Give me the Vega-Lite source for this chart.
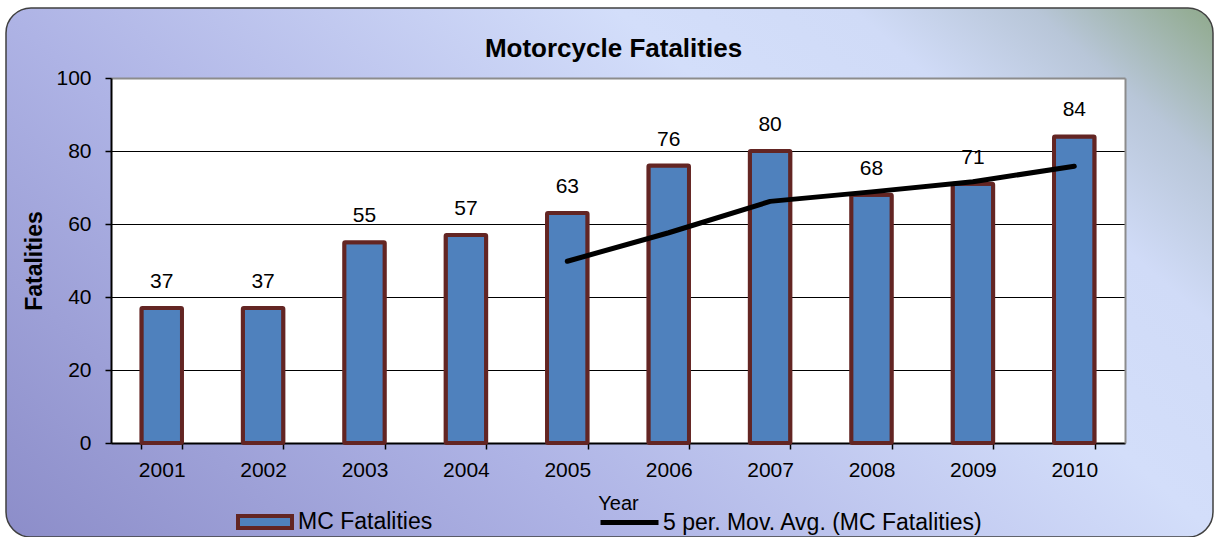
{
  "$schema": "https://vega.github.io/schema/vega-lite/v6.json",
  "autosize": {"type": "none"},
  "width": 1207,
  "height": 529,
  "padding": {"left": 6, "top": 8, "right": 2, "bottom": 0},
  "background": "white",
  "view": {
    "fill": {
      "gradient": "linear",
      "x1": 0, "y1": 1, "x2": 1.2, "y2": 0.4,
      "stops": [
        {"offset": 0, "color": "#8c8dc9"},
        {"offset": 0.33, "color": "#aeb3e5"},
        {"offset": 0.67, "color": "#d3defa"},
        {"offset": 0.8, "color": "#d0dbf7"},
        {"offset": 0.9, "color": "#b8c6d8"},
        {"offset": 1, "color": "#8fa98b"}
      ]
    },
    "stroke": "#404040",
    "strokeWidth": 1.5,
    "cornerRadius": 25
  },
  "title": {
    "text": "Motorcycle Fatalities",
    "font": "Liberation Sans",
    "fontSize": 26,
    "fontWeight": "bold",
    "color": "black",
    "baseline": "alphabetic",
    "frame": "group",
    "offset": -75,
    "dx": 4,
    "anchor": "middle"
  },
  "data": {
    "values": [
      {"Year": "2001", "MC": 37, "Avg": null},
      {"Year": "2002", "MC": 37, "Avg": null},
      {"Year": "2003", "MC": 55, "Avg": null},
      {"Year": "2004", "MC": 57, "Avg": null},
      {"Year": "2005", "MC": 63, "Avg": 49.8},
      {"Year": "2006", "MC": 76, "Avg": 57.6},
      {"Year": "2007", "MC": 80, "Avg": 66.2},
      {"Year": "2008", "MC": 68, "Avg": 68.8},
      {"Year": "2009", "MC": 71, "Avg": 71.6},
      {"Year": "2010", "MC": 84, "Avg": 75.8}
    ]
  },
  "encoding": {
    "x": {
      "field": "Year",
      "type": "ordinal",
      "scale": {"paddingInner": 0.6, "paddingOuter": 0.3, "range": [105, 1119]},
      "axis": {
        "title": "Year",
        "orient": "bottom",
        "offset": -94,
        "labelAngle": 0,
        "tickBand": "extent",
        "titleFontSize": 20,
        "titleFontWeight": "normal",
        "titlePadding": 13,
        "grid": false
      }
    }
  },
  "layer": [
    {
      "mark": {"type": "text", "baseline": "middle", "dy": -26, "fontSize": 21, "font": "Liberation Sans", "color": "black"},
      "encoding": {
        "y": {
          "field": "MC",
          "type": "quantitative",
          "scale": {"domain": [0, 100], "range": [435, 70]},
          "axis": {
            "orient": "left",
            "offset": -105,
            "values": [50],
            "grid": true,
            "gridColor": "white",
            "gridWidth": 365,
            "gridOpacity": 1,
            "labels": false,
            "ticks": false,
            "title": null,
            "domain": false
          }
        },
        "text": {"field": "MC", "type": "quantitative"}
      }
    },
    {
      "mark": {"type": "bar", "stroke": "#632523", "strokeWidth": 4, "cornerRadius": 1},
      "encoding": {
        "y": {
          "field": "MC",
          "type": "quantitative",
          "axis": {
            "orient": "left",
            "offset": -105,
            "title": "Fatalities",
            "values": [0, 20, 40, 60, 80, 100],
            "grid": true,
            "gridColor": {"condition": {"test": "datum.value === 100", "value": "#8c8c8c"}, "value": "black"},
            "gridWidth": {"condition": {"test": "datum.value === 100", "value": 2}, "value": 1},
            "gridOpacity": 1,
            "titleFontSize": 23,
            "titleFontWeight": "bold",
            "titlePadding": 9,
            "labelPadding": 14
          }
        },
        "fill": {
          "datum": "MC Fatalities",
          "scale": {"range": ["#4f81bd"]},
          "legend": {
            "orient": "none",
            "legendX": 230,
            "legendY": 485,
            "title": null,
            "symbolType": "M-1,-0.22H1V0.22H-1Z",
            "symbolSize": 2916,
            "symbolStrokeColor": "#632523",
            "symbolStrokeWidth": 4,
            "symbolFillColor": "#4f81bd",
            "symbolOpacity": 1,
            "labelFontSize": 23,
            "labelOffset": 4,
            "labelLimit": 500,
            "labelColor": "black",
            "labelFont": "Liberation Sans",
            "padding": 0
          }
        }
      }
    },
    {
      "mark": {"type": "line", "strokeWidth": 5, "strokeCap": "round", "strokeJoin": "round"},
      "encoding": {
        "y": {
          "field": "Avg",
          "type": "quantitative",
          "axis": {
            "orient": "right",
            "offset": -88,
            "labels": false,
            "ticks": false,
            "grid": false,
            "title": null,
            "domain": true,
            "domainColor": "#8c8c8c",
            "domainWidth": 2
          }
        },
        "stroke": {
          "datum": "5 per. Mov. Avg. (MC Fatalities)",
          "scale": {"range": ["black"]},
          "legend": {
            "orient": "none",
            "legendX": 592,
            "legendY": 483,
            "title": null,
            "symbolType": "stroke",
            "symbolSize": 3364,
            "symbolStrokeWidth": 5,
            "symbolStrokeColor": "black",
            "labelFontSize": 23,
            "labelOffset": 2,
            "labelLimit": 500,
            "labelColor": "black",
            "labelFont": "Liberation Sans",
            "padding": 0
          }
        }
      }
    }
  ],
  "resolve": {"axis": {"y": "independent"}},
  "config": {
    "font": "Liberation Sans",
    "axis": {
      "labelFont": "Liberation Sans",
      "titleFont": "Liberation Sans",
      "labelFontSize": 21,
      "labelColor": "black",
      "titleColor": "black",
      "domainColor": "black",
      "domainWidth": 2,
      "tickColor": "black",
      "tickSize": 6,
      "tickWidth": 1.5
    },
    "axisX": {"labelPadding": 10}
  }
}
